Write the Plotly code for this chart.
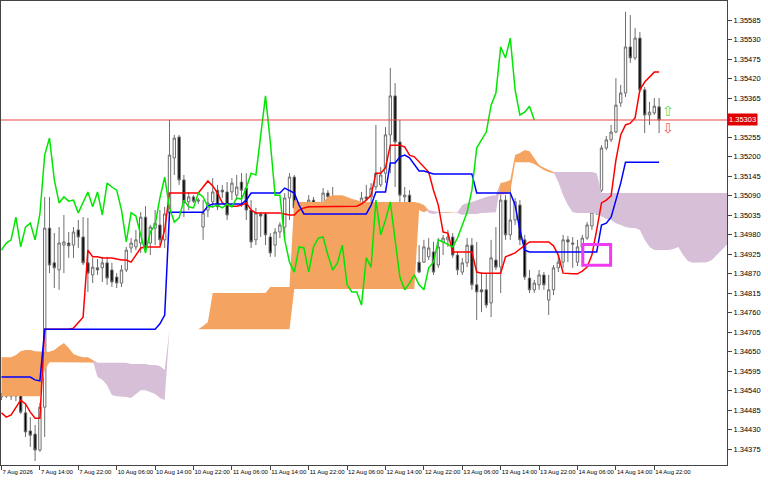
import plotly.graph_objects as go

# ---------------- data (H1 bars, index 0 = 7 Aug 06:00) ----------------
opens = [
    1.34522, 1.34524, 1.34524, 1.34524, 1.34533, 1.34477, 1.34426, 1.34417, 1.34372, 1.34493,
    1.34998, 1.34900, 1.34880, 1.34950, 1.34956, 1.34950, 1.34993, 1.34973, 1.34900, 1.34866,
    1.34886, 1.34886, 1.34900, 1.34880, 1.34860, 1.34843, 1.34880, 1.34942, 1.34945, 1.34956,
    1.35029, 1.34956, 1.34998, 1.35007, 1.34965, 1.35041, 1.35196, 1.35255, 1.35134, 1.35072,
    1.35086, 1.35074, 1.35001, 1.35049, 1.35072, 1.35105, 1.35105, 1.35100, 1.35100, 1.35091,
    1.35128, 1.35111, 1.35049, 1.34965, 1.35038, 1.35038, 1.34973, 1.34950, 1.34987, 1.35001,
    1.35083, 1.35142, 1.35055, 1.35015, 1.35027, 1.35077, 1.35021, 1.35058, 1.35097, 1.35086,
    1.35072, 1.35055, 1.35066, 1.35058, 1.35066, 1.35058, 1.35086, 1.35086, 1.35114, 1.35120,
    1.35153, 1.35261, 1.35371, 1.35241, 1.35086, 1.35091, 1.34965, 1.34902, 1.34902, 1.34917,
    1.34931, 1.34894, 1.34959, 1.34965, 1.34973, 1.34922, 1.34874, 1.34900, 1.34950, 1.34838,
    1.34824, 1.34824, 1.34787, 1.34908, 1.34888, 1.35077, 1.34979, 1.35021, 1.35063, 1.34965,
    1.34857, 1.34824, 1.34838, 1.34866, 1.34795, 1.34824, 1.34886, 1.34902, 1.34965, 1.34956,
    1.34902, 1.34945, 1.34970, 1.35004, 1.35043, 1.35105, 1.35224, 1.35247, 1.35269, 1.35351,
    1.35379, 1.35509, 1.35478, 1.35534, 1.35388, 1.35317, 1.35323, 1.35340,
]
highs = [
    1.34533, 1.34544, 1.34555, 1.34578, 1.34541, 1.34505, 1.34465, 1.34443, 1.34505, 1.35086,
    1.35086, 1.34984, 1.35001, 1.35035, 1.34987, 1.35001, 1.35021, 1.35029, 1.35027, 1.34914,
    1.34911, 1.34917, 1.34917, 1.34900, 1.34871, 1.34894, 1.34945, 1.34970, 1.34993, 1.35043,
    1.35060, 1.35007, 1.35049, 1.35049, 1.35058, 1.35303, 1.35261, 1.35261, 1.35148, 1.35100,
    1.35091, 1.35083, 1.35077, 1.35100, 1.35139, 1.35120, 1.35120, 1.35128, 1.35139, 1.35148,
    1.35153, 1.35153, 1.35077, 1.35055, 1.35043, 1.35043, 1.34984, 1.34998, 1.35015, 1.35097,
    1.35153, 1.35148, 1.35069, 1.35035, 1.35091, 1.35086, 1.35072, 1.35111, 1.35105, 1.35114,
    1.35083, 1.35077, 1.35072, 1.35080, 1.35072, 1.35100, 1.35120, 1.35125, 1.35289, 1.35170,
    1.35283, 1.35450, 1.35407, 1.35303, 1.35114, 1.35105, 1.34979, 1.34950, 1.34965, 1.34970,
    1.34959, 1.34970, 1.34979, 1.34993, 1.34984, 1.34931, 1.34914, 1.34970, 1.34970, 1.34959,
    1.34874, 1.34871, 1.34965, 1.35001, 1.35091, 1.35091, 1.35125, 1.35083, 1.35077, 1.34979,
    1.34880, 1.34852, 1.34880, 1.34874, 1.34866, 1.34894, 1.34922, 1.34979, 1.34976, 1.34973,
    1.34965, 1.34979, 1.35015, 1.35055, 1.35128, 1.35232, 1.35258, 1.35289, 1.35421, 1.35402,
    1.35608, 1.35599, 1.35562, 1.35551, 1.35396, 1.35354, 1.35365, 1.35365,
]
lows = [
    1.34513, 1.34519, 1.34513, 1.34510, 1.34474, 1.34409, 1.34381, 1.34341, 1.34367, 1.34409,
    1.34871, 1.34829, 1.34824, 1.34871, 1.34914, 1.34914, 1.34942, 1.34894, 1.34818, 1.34843,
    1.34866, 1.34846, 1.34838, 1.34832, 1.34829, 1.34832, 1.34874, 1.34928, 1.34936, 1.34928,
    1.34936, 1.34922, 1.34950, 1.34950, 1.34942, 1.35029, 1.35148, 1.35120, 1.35029, 1.35049,
    1.35069, 1.35066, 1.34965, 1.35029, 1.35055, 1.35049, 1.35083, 1.35021, 1.35077, 1.35077,
    1.35058, 1.35021, 1.34942, 1.34950, 1.34973, 1.34950, 1.34917, 1.34917, 1.34970, 1.34965,
    1.35021, 1.35043, 1.34965, 1.34965, 1.35021, 1.35021, 1.34979, 1.34998, 1.35077, 1.35029,
    1.35029, 1.35027, 1.35043, 1.35049, 1.35043, 1.35049, 1.35077, 1.35069, 1.35105, 1.35114,
    1.35125, 1.35153, 1.35114, 1.35035, 1.35041, 1.34936, 1.34894, 1.34871, 1.34900, 1.34908,
    1.34866, 1.34886, 1.34922, 1.34945, 1.34914, 1.34866, 1.34866, 1.34888, 1.34824, 1.34739,
    1.34761, 1.34773, 1.34747, 1.34880, 1.34815, 1.34965, 1.34965, 1.35007, 1.34950, 1.34852,
    1.34815, 1.34815, 1.34824, 1.34824, 1.34753, 1.34809, 1.34874, 1.34886, 1.34902, 1.34886,
    1.34891, 1.34936, 1.34965, 1.34993, 1.35035, 1.35100, 1.35218, 1.35241, 1.35266, 1.35340,
    1.35368, 1.35464, 1.35472, 1.35382, 1.35266, 1.35289, 1.35317, 1.35266,
]
closes = [
    1.34527, 1.34533, 1.34533, 1.34533, 1.34479, 1.34423, 1.34414, 1.34372, 1.34493, 1.34998,
    1.34894, 1.34886, 1.34956, 1.34959, 1.34948, 1.34987, 1.34973, 1.34900, 1.34871, 1.34888,
    1.34880, 1.34900, 1.34857, 1.34846, 1.34843, 1.34880, 1.34936, 1.34956, 1.34965, 1.35029,
    1.34945, 1.35001, 1.35012, 1.34965, 1.35038, 1.35204, 1.35252, 1.35134, 1.35069, 1.35086,
    1.35074, 1.35077, 1.35041, 1.35069, 1.35100, 1.35058, 1.35100, 1.35035, 1.35125, 1.35114,
    1.35105, 1.35049, 1.34959, 1.35041, 1.35032, 1.34979, 1.34928, 1.34987, 1.35007, 1.35083,
    1.35142, 1.35055, 1.35015, 1.35027, 1.35077, 1.35058, 1.35055, 1.35097, 1.35086, 1.35058,
    1.35058, 1.35063, 1.35055, 1.35066, 1.35058, 1.35083, 1.35080, 1.35111, 1.35153, 1.35148,
    1.35261, 1.35371, 1.35241, 1.35091, 1.35091, 1.34965, 1.34902, 1.34874, 1.34945, 1.34942,
    1.34874, 1.34945, 1.34970, 1.34973, 1.34922, 1.34880, 1.34900, 1.34950, 1.34838, 1.34818,
    1.34818, 1.34781, 1.34914, 1.34888, 1.35077, 1.34979, 1.35021, 1.35072, 1.34965, 1.34860,
    1.34824, 1.34843, 1.34866, 1.34838, 1.34824, 1.34886, 1.34902, 1.34965, 1.34959, 1.34953,
    1.34945, 1.34970, 1.35007, 1.35043, 1.35105, 1.35224, 1.35247, 1.35269, 1.35345, 1.35379,
    1.35509, 1.35478, 1.35534, 1.35388, 1.35317, 1.35325, 1.35342, 1.35303,
]
tenkan = [
    1.34477, 1.34465, 1.34471, 1.34491, 1.34513, 1.34502, 1.34479, 1.34462, 1.34462,
    1.34713, 1.34713, 1.34713, 1.34713, 1.34713, 1.34713,
    1.34716, 1.34733, 1.34747, 1.34936,
    1.34917, 1.34917, 1.34914, 1.34914, 1.34914, 1.34911, 1.34908, 1.34908, 1.34902,
    1.34922, 1.34942, 1.34945, 1.34945, 1.34945, 1.34945, 1.34993,
    1.35097, 1.35097, 1.35097, 1.35097, 1.35097, 1.35097, 1.35097,
    1.35114, 1.35131, 1.35117, 1.35097, 1.35069, 1.35063, 1.35060, 1.35060, 1.35063, 1.35069,
    1.35049,
    1.35041, 1.35041, 1.35041, 1.35041, 1.35041, 1.35041,
    1.35038, 1.35035, 1.35035, 1.35049, 1.35055,
    1.35058, 1.35058, 1.35058, 1.35058, 1.35058, 1.35058, 1.35058, 1.35058, 1.35058, 1.35058,
    1.35060, 1.35066, 1.35077, 1.35091, 1.35153, 1.35153, 1.35168,
    1.35232, 1.35232, 1.35232,
    1.35227, 1.35204, 1.35199, 1.35184, 1.35170, 1.35156, 1.35105, 1.35063, 1.34987, 1.34984,
    1.34931, 1.34931, 1.34931, 1.34931, 1.34931,
    1.34874,
    1.34871, 1.34871, 1.34871, 1.34871, 1.34871,
    1.34917, 1.34922, 1.34928, 1.34939, 1.34950,
    1.34959, 1.34959, 1.34959, 1.34959, 1.34959,
    1.34948, 1.34922, 1.34871,
    1.34869, 1.34869, 1.34869,
    1.34877, 1.34888, 1.34922, 1.34993, 1.35069, 1.35077, 1.35089,
    1.35190, 1.35261, 1.35289, 1.35294, 1.35309, 1.35388, 1.35410, 1.35424, 1.35438, 1.35438,
]
kijun = [
    1.34578, 1.34578, 1.34578, 1.34578, 1.34578, 1.34578, 1.34578, 1.34570, 1.34567,
    1.34713, 1.34713, 1.34713, 1.34713, 1.34713, 1.34713, 1.34713, 1.34713, 1.34713, 1.34713,
    1.34713, 1.34713, 1.34713, 1.34713, 1.34713, 1.34713, 1.34713, 1.34713, 1.34713, 1.34713,
    1.34713, 1.34713, 1.34713, 1.34713,
    1.34728, 1.34753,
    1.35043, 1.35043, 1.35043, 1.35043, 1.35043, 1.35043, 1.35043, 1.35043,
    1.35060,
    1.35066, 1.35066, 1.35066, 1.35066, 1.35066, 1.35066, 1.35066,
    1.35077,
    1.35097, 1.35097, 1.35097, 1.35097, 1.35097, 1.35097, 1.35097,
    1.35111, 1.35105, 1.35097, 1.35063,
    1.35038, 1.35038, 1.35038, 1.35038, 1.35038, 1.35038, 1.35038, 1.35038, 1.35038, 1.35038,
    1.35038, 1.35038, 1.35038, 1.35038,
    1.35063,
    1.35100, 1.35100, 1.35100,
    1.35182, 1.35182, 1.35199, 1.35204, 1.35196, 1.35179, 1.35159, 1.35159, 1.35156,
    1.35151, 1.35151, 1.35151, 1.35151, 1.35151, 1.35151, 1.35151, 1.35151, 1.35151,
    1.35097, 1.35097, 1.35097, 1.35097, 1.35097, 1.35097, 1.35097, 1.35097,
    1.35063, 1.34993, 1.34936,
    1.34931, 1.34931, 1.34931, 1.34931, 1.34931, 1.34931, 1.34931, 1.34931, 1.34931, 1.34931,
    1.34931, 1.34931, 1.34931, 1.34931, 1.34931,
    1.35007, 1.35012, 1.35029, 1.35077, 1.35125,
    1.35184, 1.35184, 1.35184, 1.35184, 1.35184, 1.35184, 1.35184, 1.35184,
]
span_a = [
    1.34634, 1.34634, 1.34634, 1.34640, 1.34651, 1.34654, 1.34654, 1.34651, 1.34649, 1.34649,
    1.34649, 1.34654, 1.34665, 1.34674, 1.34660, 1.34643, 1.34637, 1.34634, 1.34634, 1.34626,
    1.34578, 1.34570, 1.34555, 1.34527, 1.34524, 1.34524, 1.34522, 1.34519, 1.34530, 1.34541,
    1.34541, 1.34536, 1.34530, 1.34519, 1.34513, 1.34713, 1.34713, 1.34713, 1.34713, 1.34713,
    1.34713, 1.34713, 1.34722, 1.34733, 1.34815, 1.34815, 1.34815, 1.34815, 1.34815, 1.34815,
    1.34815, 1.34815, 1.34815, 1.34815, 1.34815, 1.34815, 1.34832, 1.34832, 1.34832, 1.34832,
    1.34832, 1.35077, 1.35072, 1.35072, 1.35072, 1.35072, 1.35072, 1.35072, 1.35086, 1.35091,
    1.35091, 1.35091, 1.35086, 1.35080, 1.35077, 1.35072, 1.35072, 1.35072, 1.35072, 1.35072,
    1.35072, 1.35072, 1.35072, 1.35072, 1.35072, 1.35072, 1.35072, 1.35069, 1.35063, 1.35041,
    1.35038, 1.35041, 1.35043, 1.35043, 1.35043, 1.35041, 1.35035, 1.35038, 1.35038, 1.35038,
    1.35041, 1.35041, 1.35043, 1.35043, 1.35125, 1.35128, 1.35134, 1.35204, 1.35210, 1.35218,
    1.35215, 1.35196, 1.35176, 1.35168, 1.35162, 1.35156, 1.35128, 1.35091, 1.35063, 1.35043,
    1.35041, 1.35041, 1.35041, 1.35041, 1.35038, 1.35032, 1.35024, 1.35021, 1.35012, 1.35007,
    1.35001, 1.34998, 1.34998, 1.34993, 1.34965, 1.34945, 1.34936, 1.34936, 1.34936, 1.34936,
    1.34939, 1.34945, 1.34922, 1.34905, 1.34900, 1.34900, 1.34900, 1.34902, 1.34908, 1.34922,
    1.34936, 1.34950, 1.34956,
]
span_b = [
    1.34524, 1.34524, 1.34524, 1.34524, 1.34524, 1.34524, 1.34524, 1.34524, 1.34524, 1.34598,
    1.34620, 1.34620, 1.34620, 1.34620, 1.34620, 1.34620, 1.34620, 1.34620, 1.34620, 1.34620,
    1.34618, 1.34618, 1.34618, 1.34618, 1.34618, 1.34618, 1.34618, 1.34615, 1.34615, 1.34615,
    1.34615, 1.34612, 1.34612, 1.34609, 1.34598, 1.34713, 1.34713, 1.34713, 1.34713, 1.34713,
    1.34713, 1.34713, 1.34713, 1.34713, 1.34713, 1.34713, 1.34713, 1.34713, 1.34713, 1.34713,
    1.34713, 1.34713, 1.34713, 1.34713, 1.34713, 1.34713, 1.34713, 1.34713, 1.34713, 1.34713,
    1.34713, 1.34826, 1.34826, 1.34826, 1.34826, 1.34826, 1.34826, 1.34826, 1.34826, 1.34826,
    1.34826, 1.34826, 1.34826, 1.34826, 1.34826, 1.34826, 1.34826, 1.34826, 1.34826, 1.34826,
    1.34826, 1.34826, 1.34826, 1.34826, 1.34826, 1.34826, 1.34826, 1.35049, 1.35043, 1.35049,
    1.35046, 1.35043, 1.35041, 1.35041, 1.35041, 1.35043, 1.35063, 1.35069, 1.35072, 1.35077,
    1.35080, 1.35086, 1.35089, 1.35091, 1.35091, 1.35094, 1.35100, 1.35184, 1.35184, 1.35184,
    1.35184, 1.35179, 1.35170, 1.35162, 1.35156, 1.35153, 1.35156, 1.35156, 1.35156, 1.35156,
    1.35156, 1.35156, 1.35156, 1.35156, 1.35153, 1.35097, 1.35097, 1.35097, 1.35097, 1.35097,
    1.35097, 1.35097, 1.35097, 1.35097, 1.35097, 1.35097, 1.35097, 1.35097, 1.35097, 1.35097,
    1.35097, 1.35097, 1.35097, 1.35097, 1.35097, 1.35097, 1.35097, 1.35097, 1.35097, 1.35097,
    1.35097, 1.35097, 1.35097,
]
x_label_bars = [0, 8, 16, 24, 32, 40, 48, 56, 64, 72, 80, 88, 96, 104, 112, 120, 128, 136]
x_labels = ["7 Aug 2026", "7 Aug 14:00", "7 Aug 22:00", "10 Aug 06:00", "10 Aug 14:00",
            "10 Aug 22:00", "11 Aug 06:00", "11 Aug 14:00", "11 Aug 22:00", "12 Aug 06:00",
            "12 Aug 14:00", "12 Aug 22:00", "13 Aug 06:00", "13 Aug 14:00", "13 Aug 22:00",
            "14 Aug 06:00", "14 Aug 14:00", "14 Aug 22:00"]
y_labels = ["1.34375", "1.34430", "1.34485", "1.34540", "1.34595", "1.34650", "1.34705",
            "1.34760", "1.34815", "1.34870", "1.34925", "1.34980", "1.35035", "1.35090",
            "1.35145", "1.35200", "1.35255", "1.35310", "1.35365", "1.35420", "1.35475",
            "1.35530", "1.35585"]
last_price = 1.35303
chikou_shift = 26
# highlighted zone (bar index / price)
zone_bars = (121.1, 126.9)
zone_prices = (1.34893, 1.34952)
arrow_bar = 138.9
arrow_up_price = 1.35328
arrow_down_price = 1.35280

# ---------------- figure ----------------
bars = list(range(len(closes)))
cloud_x = list(range(len(span_a)))
cloud_top = [max(a, b) for a, b in zip(span_a, span_b)]
# the price label box hides the scale label it sits on
y_ticktext = ["" if abs(float(s) - last_price) < 0.0002 else s for s in y_labels]

fig = go.Figure()
# Kumo: orange where span A above span B, thistle where span B above span A
fig.add_trace(go.Scatter(x=cloud_x, y=span_b, mode="lines", line=dict(width=0),
                         hoverinfo="skip", showlegend=False))
fig.add_trace(go.Scatter(x=cloud_x, y=cloud_top, mode="lines", line=dict(width=0),
                         fill="tonexty", fillcolor="#F4A460", hoverinfo="skip", showlegend=False))
fig.add_trace(go.Scatter(x=cloud_x, y=span_a, mode="lines", line=dict(width=0),
                         hoverinfo="skip", showlegend=False))
fig.add_trace(go.Scatter(x=cloud_x, y=cloud_top, mode="lines", line=dict(width=0),
                         fill="tonexty", fillcolor="#D8BFD8", hoverinfo="skip", showlegend=False))

fig.add_trace(go.Candlestick(
    x=bars, open=opens, high=highs, low=lows, close=closes,
    increasing=dict(fillcolor="white", line=dict(color="#6e6e6e", width=1)),
    decreasing=dict(fillcolor="black", line=dict(color="#6e6e6e", width=1)),
    whiskerwidth=0, showlegend=False, hoverinfo="skip"))

fig.add_trace(go.Scatter(x=bars, y=tenkan, mode="lines",
                         line=dict(color="#FF0000", width=1.5), showlegend=False))
fig.add_trace(go.Scatter(x=bars, y=kijun, mode="lines",
                         line=dict(color="#0000FF", width=1.5), showlegend=False))
fig.add_trace(go.Scatter(x=bars[:-chikou_shift], y=closes[chikou_shift:], mode="lines",
                         line=dict(color="#00E600", width=1.5), showlegend=False))

fig.add_shape(type="line", xref="paper", x0=0, x1=1, yref="y", y0=last_price, y1=last_price,
              line=dict(color="#E64646", width=1), layer="above")
fig.add_shape(type="rect", xref="x", yref="y", x0=zone_bars[0], x1=zone_bars[1],
              y0=zone_prices[0], y1=zone_prices[1],
              line=dict(color="#F03CF0", width=3), fillcolor="rgba(0,0,0,0)", layer="above")

fig.add_annotation(x=1, xref="paper", xanchor="left", y=last_price, yref="y", yanchor="middle",
                   text=f"{last_price:.5f}", showarrow=False, bgcolor="#E00000",
                   font=dict(family="Liberation Sans", size=7.5, color="white"), borderpad=1)
fig.add_annotation(x=arrow_bar, y=arrow_up_price, xref="x", yref="y", text="⇧", showarrow=False,
                   font=dict(family="DejaVu Sans", size=14, color="#5BD85B"))
fig.add_annotation(x=arrow_bar, y=arrow_down_price, xref="x", yref="y", text="⇩", showarrow=False,
                   font=dict(family="DejaVu Sans", size=14, color="#F06060"))

fig.update_layout(
    width=768, height=480,
    margin=dict(l=1, r=41, t=1, b=15, autoexpand=False),
    paper_bgcolor="white", plot_bgcolor="white", showlegend=False,
    xaxis=dict(range=[-0.104, 151.146], showgrid=False, zeroline=False,
               showline=True, linecolor="#444444", linewidth=1, mirror=True,
               ticks="outside", ticklen=4, tickcolor="#444444",
               tickvals=x_label_bars, ticktext=x_labels, tickangle=0,
               ticklabelposition="outside right", ticklabelstandoff=1,
               tickfont=dict(family="Liberation Sans", size=6, color="black"),
               rangeslider=dict(visible=False), fixedrange=True),
    yaxis=dict(side="right", range=[1.343299, 1.356386], showgrid=False, zeroline=False,
               showline=True, linecolor="#444444", linewidth=1, mirror=True,
               ticks="outside", ticklen=4, tickcolor="#444444",
               tickvals=[float(s) for s in y_labels], ticktext=y_ticktext,
               tickfont=dict(family="Liberation Sans", size=7.5, color="black"),
               fixedrange=True),
)

fig.write_html("out.html", config={"displayModeBar": False},
               post_script="document.body.style.margin='0';document.body.style.overflow='hidden';")
